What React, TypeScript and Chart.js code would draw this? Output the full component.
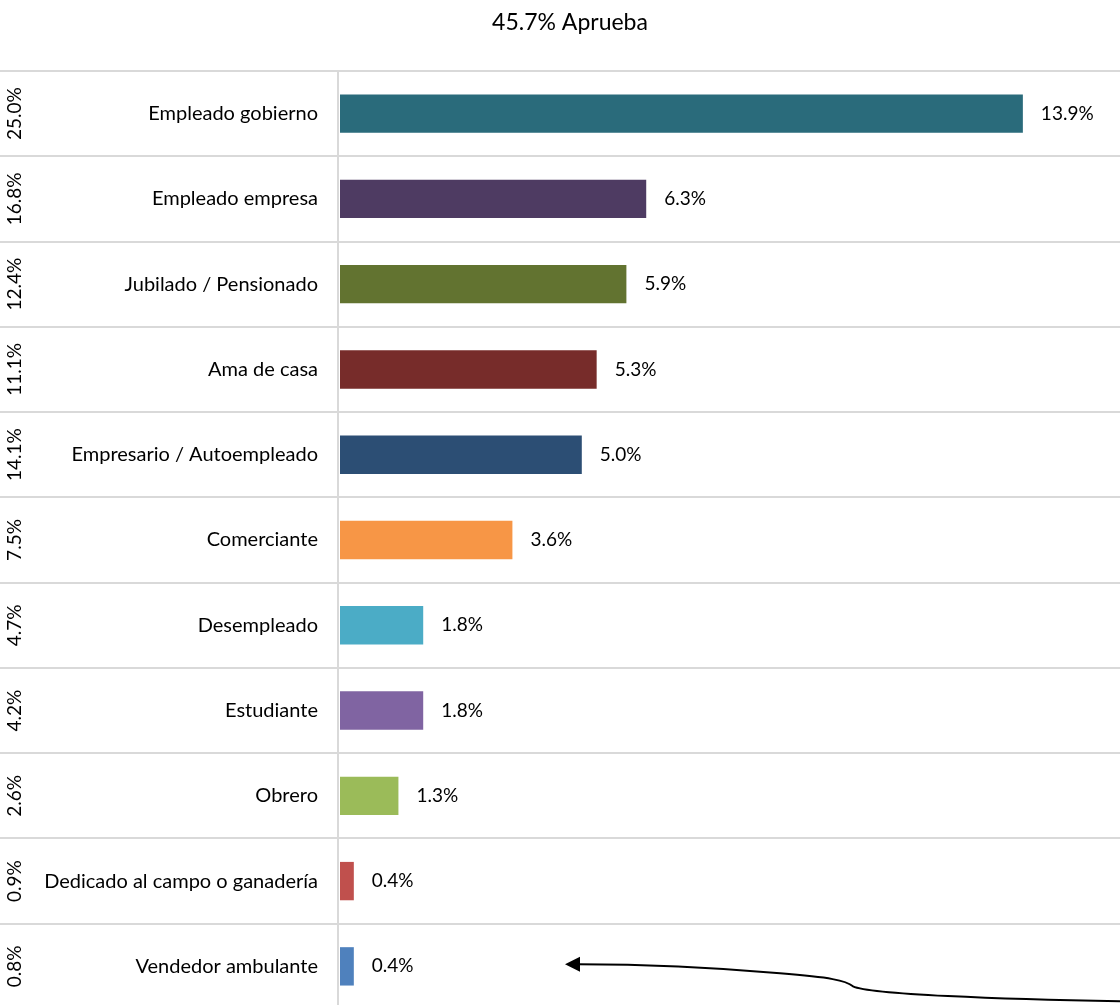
import React, { useEffect, useRef } from "react";
import { Chart, registerables } from "chart.js";

Chart.register(...registerables);

const TITLE = "45.7% Aprueba";
const categories = [
  "Empleado gobierno",
  "Empleado empresa",
  "Jubilado / Pensionado",
  "Ama de casa",
  "Empresario / Autoempleado",
  "Comerciante",
  "Desempleado",
  "Estudiante",
  "Obrero",
  "Dedicado al campo o ganadería",
  "Vendedor ambulante",
];
const values = [13.9, 6.3, 5.9, 5.3, 5.0, 3.6, 1.8, 1.8, 1.3, 0.4, 0.4];
const sideShares = [25.0, 16.8, 12.4, 11.1, 14.1, 7.5, 4.7, 4.2, 2.6, 0.9, 0.8];
const colors = [
  "#2a6b7b",
  "#4e3b62",
  "#627330",
  "#772c2a",
  "#2c4e74",
  "#f79646",
  "#4bacc6",
  "#8064a2",
  "#9bbb59",
  "#c0504d",
  "#4f81bd",
];

const FONT = "Lato";
const GRID = "#d9d9d9";
const W = 1120;
const H = 1016;

const decorPlugin = {
  id: "decor",
  beforeDatasetsDraw(chart: any) {
    const { ctx, chartArea, scales, width } = chart;
    const y = scales.y;
    ctx.save();
    ctx.strokeStyle = GRID;
    ctx.lineWidth = 2;
    const lines: number[] = [chartArea.top];
    for (let i = 0; i < categories.length - 1; i++) {
      lines.push((y.getPixelForValue(i) + y.getPixelForValue(i + 1)) / 2);
    }
    lines.push(chartArea.bottom);
    lines.forEach((ly) => {
      ctx.beginPath();
      ctx.moveTo(0, Math.round(ly));
      ctx.lineTo(width, Math.round(ly));
      ctx.stroke();
    });
    ctx.beginPath();
    ctx.moveTo(chartArea.left - 2, chartArea.top);
    ctx.lineTo(chartArea.left - 2, chartArea.bottom);
    ctx.stroke();
    ctx.restore();
  },
  afterDatasetsDraw(chart: any) {
    const { ctx, scales, width } = chart;
    const x = scales.x;
    const y = scales.y;
    ctx.save();
    ctx.fillStyle = "#000";
    // title
    ctx.font = `23px ${FONT}`;
    ctx.textAlign = "center";
    ctx.textBaseline = "middle";
    ctx.fillText(TITLE, width / 2 + 10, 23);
    // value labels
    ctx.font = `19px ${FONT}`;
    ctx.textAlign = "left";
    values.forEach((v, i) => {
      const px = x.getPixelForValue(v) + 18;
      const py = y.getPixelForValue(i);
      ctx.fillText(v.toFixed(1) + "%", px, py);
    });
    // rotated side shares
    sideShares.forEach((s, i) => {
      const py = y.getPixelForValue(i);
      ctx.save();
      ctx.translate(15, py);
      ctx.rotate(-Math.PI / 2);
      ctx.textAlign = "center";
      ctx.textBaseline = "middle";
      ctx.fillText(s.toFixed(1) + "%", 0, 0);
      ctx.restore();
    });
    // arrow annotation pointing to last category
    const ay = y.getPixelForValue(categories.length - 1) - 2;
    ctx.strokeStyle = "#000";
    ctx.lineWidth = 2;
    ctx.beginPath();
    ctx.moveTo(width, ay + 37);
    ctx.bezierCurveTo(1000, ay + 35, 870, ay + 30, 853, ay + 22);
    ctx.bezierCurveTo(846, ay + 16, 830, ay + 13, 780, ay + 9);
    ctx.bezierCurveTo(700, ay + 2, 640, ay, 578, ay);
    ctx.stroke();
    ctx.beginPath();
    ctx.moveTo(565, ay);
    ctx.lineTo(580, ay - 7.5);
    ctx.lineTo(580, ay + 7.5);
    ctx.closePath();
    ctx.fillStyle = "#000";
    ctx.fill();
    ctx.restore();
  },
};

export default function App() {
  const ref = useRef<HTMLCanvasElement | null>(null);
  useEffect(() => {
    if (!ref.current) return;
    const chart = new Chart(ref.current, {
      type: "bar",
      data: {
        labels: categories,
        datasets: [
          {
            data: values,
            backgroundColor: colors,
            borderWidth: 0,
            barPercentage: 0.45,
            categoryPercentage: 1,
          },
        ],
      },
      options: {
        indexAxis: "y",
        animation: false,
        responsive: false,
        maintainAspectRatio: false,
        layout: {
          autoPadding: false,
          padding: { top: 71, bottom: 7, left: 0, right: 0 },
        },
        plugins: {
          legend: { display: false },
          tooltip: { enabled: false },
          title: { display: false },
        },
        scales: {
          x: {
            display: false,
            min: 0.121,
            max: 15.86,
          },
          y: {
            grid: { display: false, drawTicks: false, tickLength: 0 },
            border: { display: false },
            ticks: {
              color: "#000",
              padding: 22,
              font: { family: FONT, size: 20 },
            },
            afterFit: (scale: any) => {
              scale.width = 340;
              scale.paddingTop = 0;
              scale.paddingBottom = 0;
            },
          },
        },
      },
      plugins: [decorPlugin],
    });
    return () => chart.destroy();
  }, []);
  return (
    <div
      style={{
        position: "fixed",
        left: 0,
        top: 0,
        width: W,
        height: 1005,
        overflow: "hidden",
        background: "#fff",
      }}
    >
      <canvas
        ref={ref}
        width={W}
        height={H}
        style={{ display: "block", width: W, height: H }}
      />
    </div>
  );
}
